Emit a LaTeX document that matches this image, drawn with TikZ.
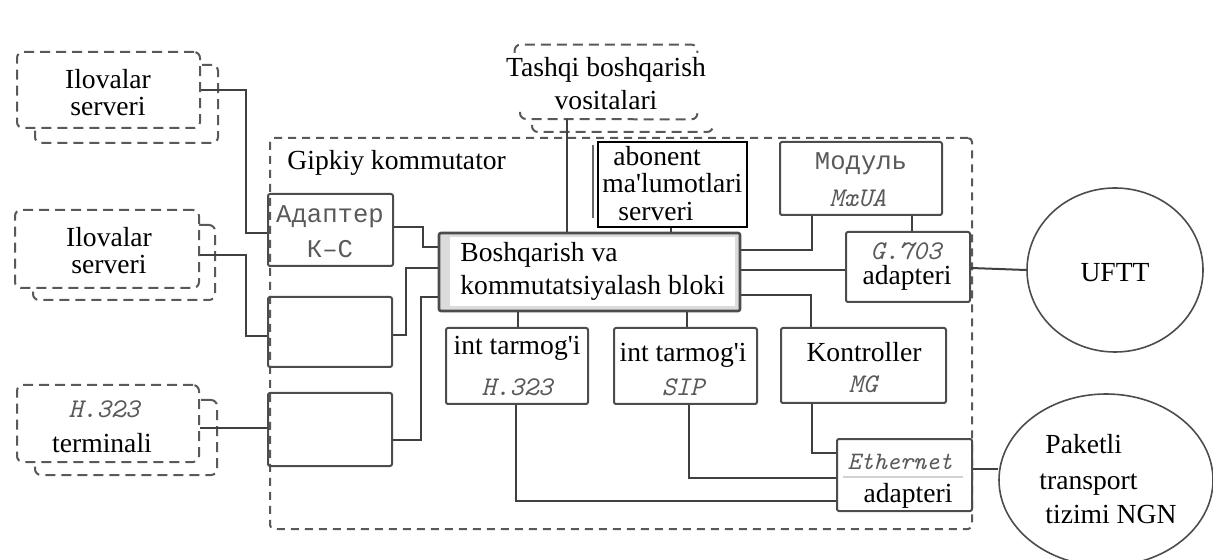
\documentclass[tikz,border=0pt]{standalone}
\usepackage{fontspec}
\setmainfont{Liberation Serif}[Ligatures=TeXOff]
\newfontfamily\monofont{Liberation Mono}
\usetikzlibrary{fit,shapes.geometric}
\begin{document}
\begin{tikzpicture}[x=0.5pt,y=-0.5pt,
  wire/.style={draw=black!75,line width=1pt},
  frame/.style={draw=black!70,line width=1pt,rounded corners=1pt,inner sep=0pt},
  dframe/.style={draw=black!65,line width=1pt,dash pattern=on 5pt off 3pt,rounded corners=3pt,inner sep=0pt},
  area/.style={inner sep=0pt},
  lbl/.style={font=\fontsize{13.8}{16}\selectfont,inner sep=0pt,anchor=base},
  code/.style={font=\monofont\fontsize{12.8}{14}\selectfont,text=black!65,inner sep=0pt,anchor=base},
  codei/.style={code,font=\ttfamily\itshape\fontsize{13.5}{15}\selectfont},
  cloud/.style={ellipse,draw=black!70,line width=0.8pt,inner sep=0pt},
]
\useasboundingbox (0,0) rectangle (1213,560);

% ---- outer frame of the hybrid switch
\node[area,draw=black!65,line width=1pt,dash pattern=on 4pt off 3pt,rounded corners=2pt,
      fit={(270,138) (972,529)}] (hyb) {};
\node[lbl,anchor=base west] (hybt) at (287,170) {Gipkiy kommutator};

% ---- external devices on the left (stacked dashed boxes)
\node[dframe,fit={(35,65) (218,143)}] (srvAb) {};
\node[dframe,fill=white,fit={(17,52) (200,128)}] (srvA) {};
\node[lbl] (srvA1) at (108,89) {Ilovalar};
\node[lbl] (srvA2) at (108,116) {serveri};

\node[dframe,fit={(33,225) (215,300)}] (srvBb) {};
\node[dframe,fill=white,fit={(15,210) (199,288)}] (srvB) {};
\node[lbl] (srvB1) at (109,247) {Ilovalar};
\node[lbl] (srvB2) at (109,274) {serveri};

\node[dframe,fit={(35,400) (217,475)}] (termb) {};
\node[dframe,fill=white,fit={(17,385) (199,462)}] (term) {};
\node[codei] (term1) at (104,417) {H.323};
\node[lbl] (term2) at (102,452) {terminali};

% ---- external management tools
\node[area,fit={(515,45) (697,119)}] (ext) {};
\draw[dframe] (532,125) -- (532,132) -- (713,132) -- (713,123);
\draw[dframe] (ext.north west |- 0,53) -- (ext.north west) -- (ext.north east) -- (ext.north east |- 0,53);
\draw[dframe] (520,112) -- (520,119) -- (ext.south east) -- (ext.south east |- 0,115);
\node[lbl] (ext1) at (606,77) {Tashqi boshqarish};
\node[lbl] (ext2) at (606,110) {vositalari};

% ---- adapters on the left side of the switch
\node[frame,fit={(268,194) (393,266)}] (adp) {};
\node[code] (adp1) at (330,223) {Адаптер};
\node[code] (adp2) at (330,258) {К–С};
\node[frame,fit={(268,297) (392,367)}] (bl1) {};
\node[frame,fit={(268,393) (392,466)}] (bl2) {};

% ---- control and switching block
\node[area,fill=black!14,draw=black!70,line width=1.3pt,rounded corners=1pt,
      fit={(439,233) (740,311)}] (core) {};
\fill[white] (450,237) rectangle (735,306);
\node[lbl,anchor=base west] (core1) at (460,262) {Boshqarish va};
\node[lbl,anchor=base west] (core2) at (460,295) {kommutatsiyalash bloki};

% ---- subscriber data server
\draw[black!60,line width=0.8pt] (593,145) -- (593,218);
\node[area,draw=black,line width=1pt,fit={(598,142) (747,227)}] (sub) {};
\node[lbl,anchor=base west] (sub1) at (613,166) {abonent};
\node[lbl,anchor=base west] (sub2) at (602,193) {ma'lumotlari};
\node[lbl,anchor=base west] (sub3) at (618,221) {serveri};

% ---- right side modules
\node[frame,fit={(780,142) (942,215)}] (mod) {};
\node[code] (mod1) at (861,170) {Модуль};
\node[codei] (mod2) at (858,207) {MxUA};

\node[frame,fit={(846,232) (970,302)}] (g7) {};
\node[codei] (g71) at (906,260) {G.703};
\node[lbl] (g72) at (907,285) {adapteri};

\node[frame,fit={(446,328) (588,404)}] (ih) {};
\node[lbl] (ih1) at (517,355) {int tarmog'i};
\node[codei] (ih2) at (517,395) {H.323};

\node[frame,fit={(614,328) (757,404)}] (is) {};
\node[lbl] (is1) at (683,362) {int tarmog'i};
\node[codei] (is2) at (683,395) {SIP};

\node[frame,fit={(781,328) (946,403)}] (ctl) {};
\node[lbl] (ctl1) at (864,362) {Kontroller};
\node[codei] (ctl2) at (863,393) {MG};

\node[frame,fill=white,fit={(837,439) (972,511)}] (eth) {};
\draw[black!18,line width=0.6pt] (843,477) -- (963,477);
\node[codei,font=\ttfamily\itshape\fontsize{12.5}{14}\selectfont] (eth1) at (900,469) {Ethernet};
\node[lbl] (eth2) at (908,502) {adapteri};

% ---- networks
\node[cloud,minimum width=88pt,minimum height=82pt] (uftt) at (1115,270) {};
\node[lbl] (uftt1) at (1115,282) {UFTT};
\begin{scope}
\clip (0,0) rectangle (1213,560);
\node[cloud,minimum width=107pt,minimum height=86pt] (ngn) at (1106,480) {};
\end{scope}
\node[lbl,anchor=base west] (ngn1) at (1045,453) {Paketli};
\node[lbl,anchor=base west] (ngn2) at (1039,489) {transport};
\node[lbl,anchor=base west] (ngn3) at (1045,523) {tizimi NGN};

% ---- connections
\draw[wire] (srvA.east |- 0,90) -| (246,233) -- (adp.west |- 0,233);
\draw[wire] (srvB.east |- 0,255) -| (246,336) -- (bl1.west |- 0,336);
\draw[wire] (term.east |- 0,428) -- (bl2.west |- 0,428);
\draw[wire] (adp.east |- 0,227) -| (423,247) -- (core.west |- 0,247);
\draw[wire] (bl1.east |- 0,335) -| (406,268) -- (core.west |- 0,268);
\draw[wire] (bl2.east |- 0,440) -| (421,297) -- (core.west |- 0,297);
\draw[wire] (ext.south -| 567,0) -- (core.north -| 567,0);
\draw[wire] (sub.south -| 671,0) -- (core.north -| 671,0);
\draw[wire] (core.east |- 0,250) -| (mod.south -| 812,0);
\draw[wire] (mod.south -| 912,0) -- (g7.north -| 912,0);
\draw[wire] (core.east |- 0,270) -- (g7.west |- 0,270);
\draw[wire] (g7.east |- 0,268) -- (uftt.west);
\draw[wire] (core.east |- 0,295) -| (ctl.north -| 811,0);
\draw[wire] (core.south -| 518,0) -- (ih.north -| 518,0);
\draw[wire] (core.south -| 687,0) -- (is.north -| 687,0);
\draw[wire] (ih.south -| 516,0) |- (eth.west |- 0,501);
\draw[wire] (is.south -| 689,0) |- (eth.west |- 0,478);
\draw[wire] (ctl.south -| 812,0) |- (eth.west |- 0,453);
\draw[wire] (eth.east |- 0,469) -- (ngn.west |- 0,469);
\end{tikzpicture}
\end{document}
